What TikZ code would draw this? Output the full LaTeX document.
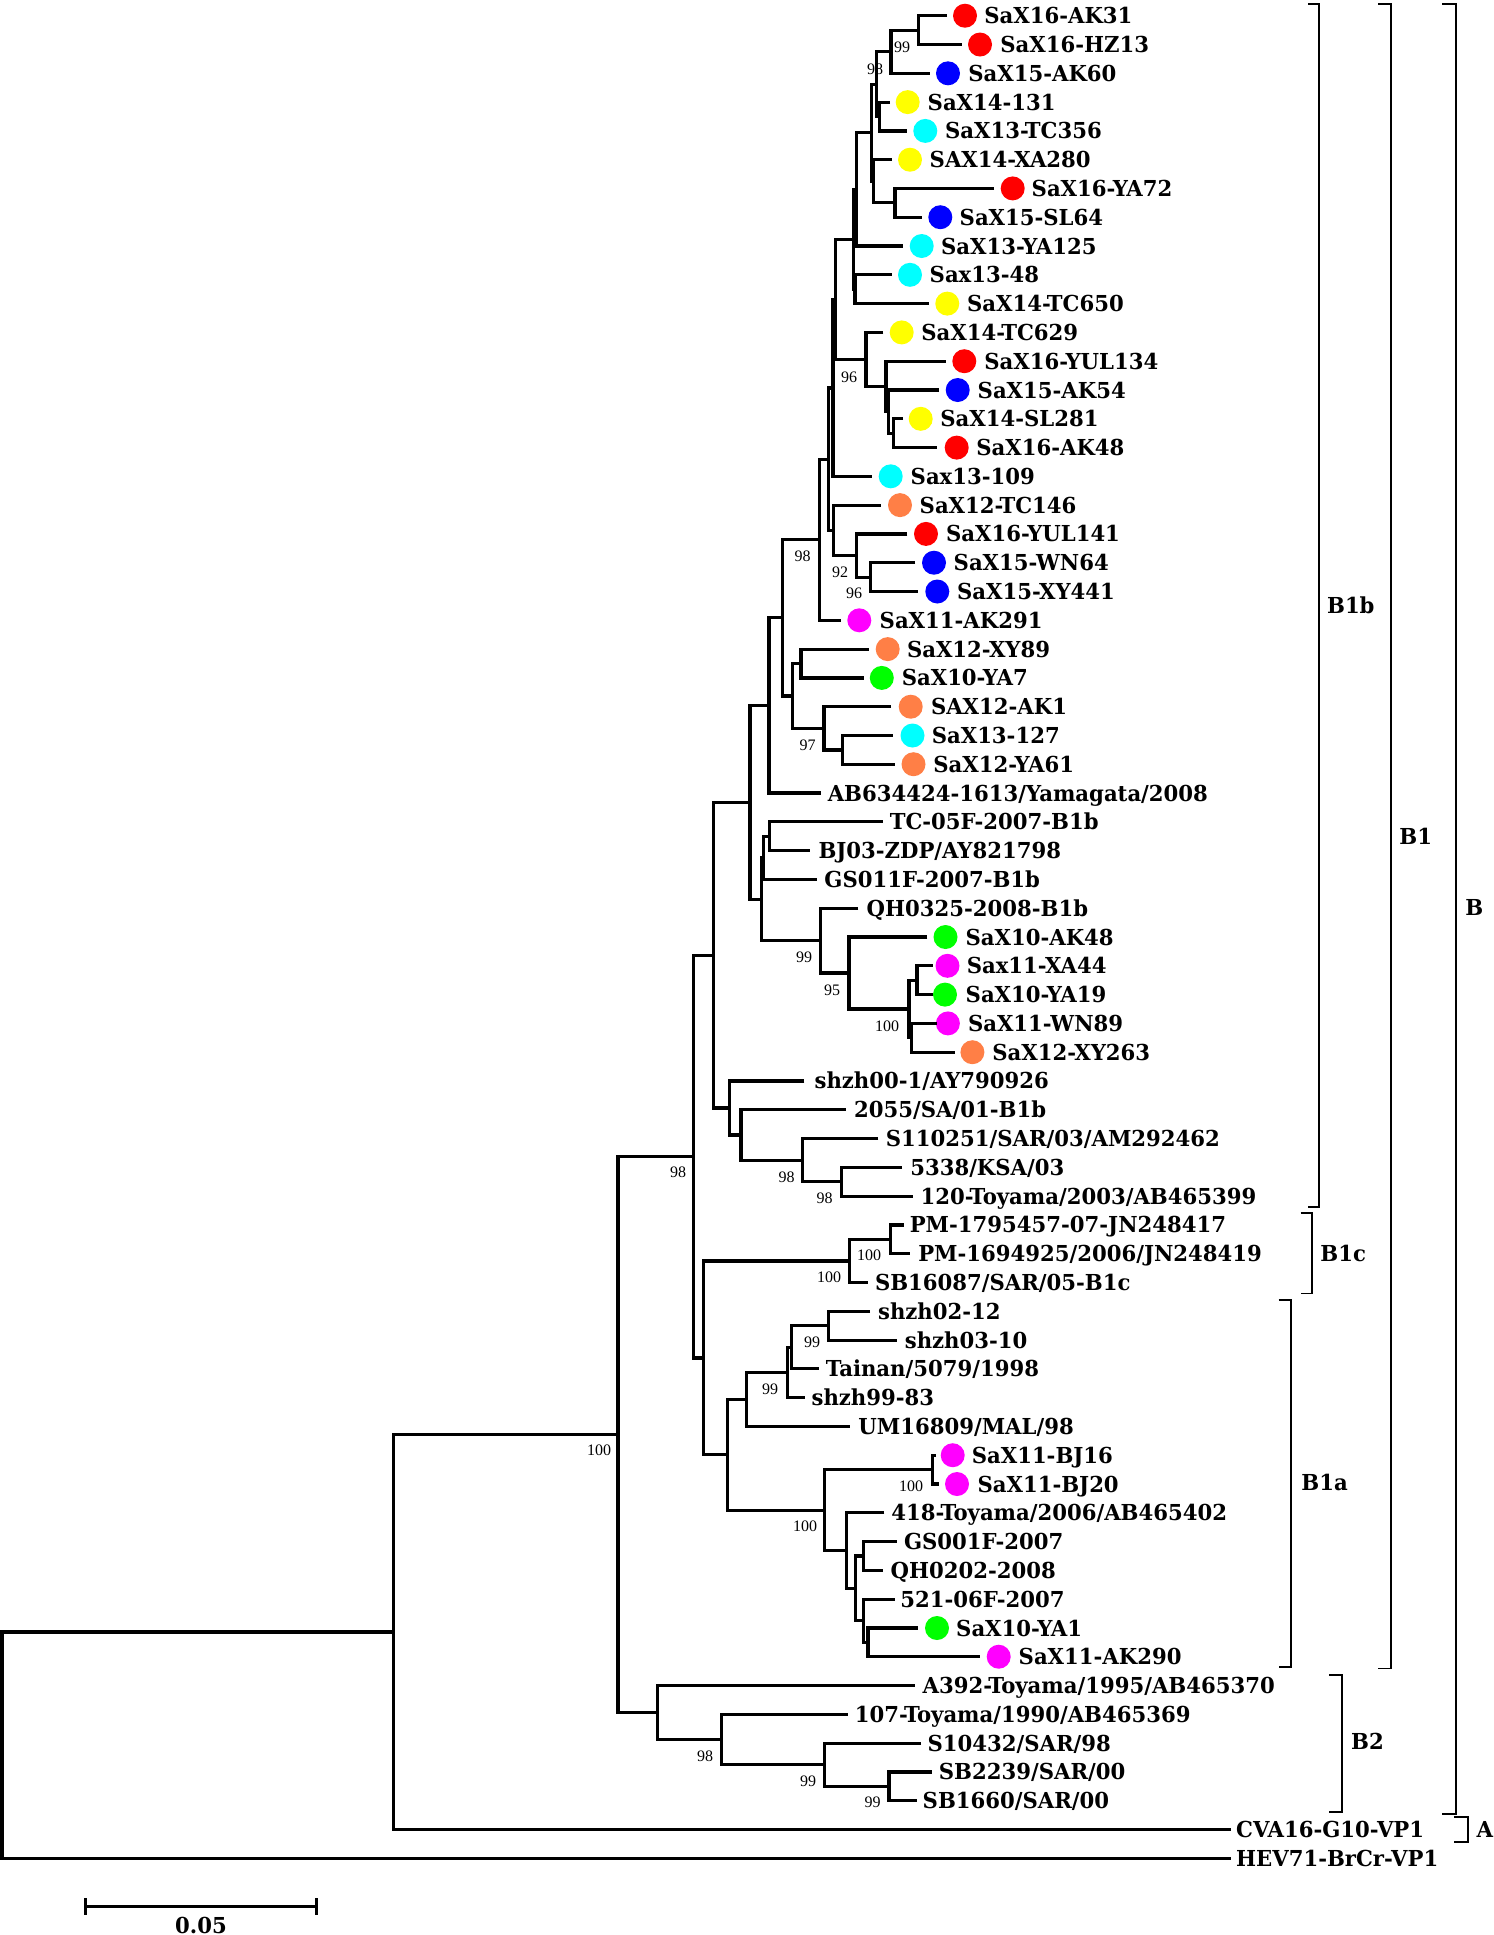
\documentclass[tikz,border=0pt]{standalone}
\usepackage{fontspec}
\newfontfamily\labfont[FakeStretch=1.07]{DejaVu Serif Condensed}
\newfontfamily\numfont{Liberation Serif}
\definecolor{corange}{RGB}{255,127,70}
\definecolor{cred}{RGB}{255,0,0}
\definecolor{cblue}{RGB}{0,0,255}
\definecolor{cyellow}{RGB}{255,255,0}
\definecolor{ccyan}{RGB}{0,255,255}
\definecolor{cmag}{RGB}{255,0,255}
\definecolor{cgreen}{RGB}{0,255,0}
\newcommand\lfplain[5]{%
  \coordinate (#1) at (#2,#3);
  \node[lbl] (#1t) at (#4,#3) {#5};}
\newcommand\lfdot[7]{%
  \coordinate (#1) at (#2,#3);
  \node[dot,fill=#5] (#1d) at (#4,#3) {};
  \node[lbl] (#1t) at (#6,#3) {#7};}
\begin{document}
\begin{tikzpicture}[x=0.5pt,y=-0.5pt,
  br/.style={line width=1.6pt},
  bk/.style={line width=0.9pt},
  lbl/.style={anchor=west,inner sep=0pt,text height=8pt,text depth=0pt,font=\labfont\bfseries\fontsize{11}{13}\selectfont},
  bs/.style={inner sep=0pt,text height=5.3pt,text depth=0pt,font=\numfont\fontsize{8}{9}\selectfont},
  dot/.style={circle,draw=none,minimum size=12pt,inner sep=0pt}]
\useasboundingbox (0,0) rectangle (1494,1935);
% leaves
\lfdot{l1}{947}{15.7}{965}{cred}{984}{SaX16-AK31}
\lfdot{l2}{962}{44.5}{980}{cred}{1000}{SaX16-HZ13}
\lfdot{l3}{930}{73.3}{948}{cblue}{968}{SaX15-AK60}
\lfdot{l4}{890}{102.1}{907.7}{cyellow}{927.3}{SaX14-131}
\lfdot{l5}{907.3}{130.9}{925.3}{ccyan}{944.7}{SaX13-TC356}
\lfdot{l6}{891.7}{159.7}{910}{cyellow}{929.3}{SAX14-XA280}
\lfdot{l7}{994}{188.4}{1012.7}{cred}{1031.3}{SaX16-YA72}
\lfdot{l8}{921.7}{217.2}{940.3}{cblue}{959.3}{SaX15-SL64}
\lfdot{l9}{902.7}{246.0}{921.7}{ccyan}{940.7}{SaX13-YA125}
\lfdot{l10}{891.7}{274.8}{910}{ccyan}{929.3}{Sax13-48}
\lfdot{l11}{929.3}{303.6}{947.3}{cyellow}{966.7}{SaX14-TC650}
\lfdot{l12}{883.3}{332.4}{901.7}{cyellow}{921}{SaX14-TC629}
\lfdot{l13}{945.7}{361.2}{964.3}{cred}{984}{SaX16-YUL134}
\lfdot{l14}{939}{390.0}{957.7}{cblue}{977.3}{SaX15-AK54}
\lfdot{l15}{903}{418.8}{920.7}{cyellow}{940}{SaX14-SL281}
\lfdot{l16}{936.7}{447.6}{956.7}{cred}{976}{SaX16-AK48}
\lfdot{l17}{871.7}{476.3}{890.7}{ccyan}{910.3}{Sax13-109}
\lfdot{l18}{880.7}{505.1}{900}{corange}{919.3}{SaX12-TC146}
\lfdot{l19}{907.3}{533.9}{926}{cred}{945.7}{SaX16-YUL141}
\lfdot{l20}{915}{562.7}{934}{cblue}{953.3}{SaX15-WN64}
\lfdot{l21}{918.3}{591.5}{937.3}{cblue}{956.7}{SaX15-XY441}
\lfdot{l22}{841}{620.3}{859.3}{cmag}{879.3}{SaX11-AK291}
\lfdot{l23}{868.7}{649.1}{887.7}{corange}{906.6}{SaX12-XY89}
\lfdot{l24}{863.6}{677.9}{881.8}{cgreen}{901.4}{SaX10-YA7}
\lfdot{l25}{891.1}{706.7}{910.7}{corange}{930.6}{SAX12-AK1}
\lfdot{l26}{892.8}{735.5}{912.5}{ccyan}{931.4}{SaX13-127}
\lfdot{l27}{894.6}{764.2}{913.5}{corange}{933}{SaX12-YA61}
\lfplain{l28}{820.5}{793.0}{827.4}{AB634424-1613/Yamagata/2008}
\lfplain{l29}{882.5}{821.8}{889.4}{TC-05F-2007-B1b}
\lfplain{l30}{810.2}{850.6}{818.1}{BJ03-ZDP/AY821798}
\lfplain{l31}{817.1}{879.4}{824}{GS011F-2007-B1b}
\lfplain{l32}{858.4}{908.2}{866.3}{QH0325-2008-B1b}
\lfdot{l33}{927.3}{937.0}{945.5}{cgreen}{965.2}{SaX10-AK48}
\lfdot{l34}{932.8}{965.8}{947.5}{cmag}{966.4}{Sax11-XA44}
\lfdot{l35}{932.8}{994.6}{945}{cgreen}{965.3}{SaX10-YA19}
\lfdot{l36}{936.8}{1023.4}{947.9}{cmag}{967.6}{SaX11-WN89}
\lfdot{l37}{954.6}{1052.2}{972.4}{corange}{992}{SaX12-XY263}
\lfplain{l38}{804.3}{1080.9}{814.2}{shzh00-1/AY790926}
\lfplain{l39}{845.8}{1109.7}{853.8}{2055/SA/01-B1b}
\lfplain{l40}{878.3}{1138.5}{885.4}{S110251/SAR/03/AM292462}
\lfplain{l41}{902}{1167.3}{909.9}{5338/KSA/03}
\lfplain{l42}{913}{1196.1}{920.2}{120-Toyama/2003/AB465399}
\lfplain{l43}{903.6}{1224.9}{909.4}{PM-1795457-07-JN248417}
\lfplain{l44}{910.3}{1253.7}{917.9}{PM-1694925/2006/JN248419}
\lfplain{l45}{867.9}{1282.5}{874.6}{SB16087/SAR/05-B1c}
\lfplain{l46}{870}{1311.3}{877.7}{shzh02-12}
\lfplain{l47}{896.9}{1340.1}{904.5}{shzh03-10}
\lfplain{l48}{818.8}{1368.8}{825.4}{Tainan/5079/1998}
\lfplain{l49}{805.4}{1397.6}{811.2}{shzh99-83}
\lfplain{l50}{850}{1426.4}{858}{UM16809/MAL/98}
\lfdot{l51}{936}{1455.2}{952.7}{cmag}{971.4}{SaX11-BJ16}
\lfdot{l52}{939.3}{1484.0}{957}{cmag}{977.2}{SaX11-BJ20}
\lfplain{l53}{884.4}{1512.8}{891}{418-Toyama/2006/AB465402}
\lfplain{l54}{896.9}{1541.6}{903.6}{GS001F-2007}
\lfplain{l55}{882.6}{1570.4}{890.2}{QH0202-2008}
\lfplain{l56}{894.6}{1599.2}{900}{521-06F-2007}
\lfdot{l57}{917.9}{1628.0}{937}{cgreen}{955.8}{SaX10-YA1}
\lfdot{l58}{979.5}{1656.7}{998.7}{cmag}{1018.3}{SaX11-AK290}
\lfplain{l59}{914.7}{1685.5}{922.3}{A392-Toyama/1995/AB465370}
\lfplain{l60}{847.8}{1714.3}{854.5}{107-Toyama/1990/AB465369}
\lfplain{l61}{921}{1743.1}{927.2}{S10432/SAR/98}
\lfplain{l62}{931.9}{1771.9}{938.5}{SB2239/SAR/00}
\lfplain{l63}{916.6}{1800.7}{922.3}{SB1660/SAR/00}
\lfplain{l64}{1231}{1829.5}{1235.8}{CVA16-G10-VP1}
\lfplain{l65}{1231}{1858.3}{1235.8}{HEV71-BrCr-VP1}
% internal nodes and branches
\coordinate (Na) at (918.3,30.1); \draw[br] (l1) -| (Na) |- (l2);
\coordinate (Nb) at (891,51.7); \draw[br] (Na) -| (Nb) |- (l3);
\coordinate (Nc) at (879.3,116.5); \draw[br] (l4) -| (Nc) |- (l5);
\coordinate (Nd) at (876.7,84.1); \draw[br] (Nb) -| (Nd) |- (Nc);
\coordinate (Nf) at (895,202.8); \draw[br] (l7) -| (Nf) |- (l8);
\coordinate (Ne) at (873.3,181.3); \draw[br] (l6) -| (Ne) |- (Nf);
\coordinate (Ng) at (871.7,132.7); \draw[br] (Nd) -| (Ng) |- (Ne);
\coordinate (Nh) at (856.7,189.4); \draw[br] (Ng) -| (Nh) |- (l9);
\coordinate (Ni1) at (855,289.2); \draw[br] (l10) -| (Ni1) |- (l11);
\coordinate (Ni) at (853.3,239.3); \draw[br] (Nh) -| (Ni) |- (Ni1);
\coordinate (Nm) at (893.3,433.2); \draw[br] (l15) -| (Nm) |- (l16);
\coordinate (Nl2) at (888.3,411.6); \draw[br] (l14) -| (Nl2) |- (Nm);
\coordinate (Nl) at (886,386.4); \draw[br] (l13) -| (Nl) |- (Nl2);
\coordinate (Nk) at (866,359.4); \draw[br] (l12) -| (Nk) |- (Nl);
\coordinate (Nn) at (835.5,299.4); \draw[br] (Ni) -| (Nn) |- (Nk);
\coordinate (No) at (833,387.9); \draw[br] (Nn) -| (No) |- (l17);
\coordinate (Nr) at (870.7,577.1); \draw[br] (l20) -| (Nr) |- (l21);
\coordinate (Ns) at (856.7,555.5); \draw[br] (l19) -| (Ns) |- (Nr);
\coordinate (Nq) at (833.3,530.3); \draw[br] (l18) -| (Nq) |- (Ns);
\coordinate (Np) at (828.3,459.1); \draw[br] (No) -| (Np) |- (Nq);
\coordinate (Nt) at (819.3,539.7); \draw[br] (Np) -| (Nt) |- (l22);
\coordinate (Nu) at (801,663.5); \draw[br] (l23) -| (Nu) |- (l24);
\coordinate (Nx) at (842.2,749.9); \draw[br] (l26) -| (Nx) |- (l27);
\coordinate (Nw) at (824,728.3); \draw[br] (l25) -| (Nw) |- (Nx);
\coordinate (Nv) at (792.3,695.9); \draw[br] (Nu) -| (Nv) |- (Nw);
\coordinate (Ny) at (782.6,617.8); \draw[br] (Nt) -| (Ny) |- (Nv);
\coordinate (Nz) at (768.9,705.4); \draw[br] (Ny) -| (Nz) |- (l28);
\coordinate (Naa) at (769.5,836.2); \draw[br] (l29) -| (Naa) |- (l30);
\coordinate (Nab) at (763.7,857.8); \draw[br] (Naa) -| (Nab) |- (l31);
\coordinate (Naf) at (917,980.2); \draw[br] (l34) -| (Naf) |- (l35);
\coordinate (Nag) at (911.5,1037.8); \draw[br] (l36) -| (Nag) |- (l37);
\coordinate (Nah) at (909,1009); \draw[br] (Naf) -| (Nah) |- (Nag);
\coordinate (Nae) at (849,973); \draw[br] (l33) -| (Nae) |- (Nah);
\coordinate (Nad) at (820.5,940.6); \draw[br] (l32) -| (Nad) |- (Nae);
\coordinate (Nac) at (761.3,899.2); \draw[br] (Nab) -| (Nac) |- (Nad);
\coordinate (Nan) at (749.9,802.3); \draw[br] (Nz) -| (Nan) |- (Nac);
\coordinate (Nai) at (841.1,1181.7); \draw[br] (l41) -| (Nai) |- (l42);
\coordinate (Naj) at (802.3,1160.1); \draw[br] (l40) -| (Naj) |- (Nai);
\coordinate (Nak) at (741,1134.9); \draw[br] (l39) -| (Nak) |- (Naj);
\coordinate (Nal) at (729.2,1107.9); \draw[br] (l38) -| (Nal) |- (Nak);
\coordinate (Nam) at (713.6,955.1); \draw[br] (Nan) -| (Nam) |- (Nal);
\coordinate (Npm) at (890.2,1239.3); \draw[br] (l43) -| (Npm) |- (l44);
\coordinate (NBonec) at (849.1,1260.9); \draw[br] (Npm) -| (NBonec) |- (l45);
\coordinate (Naq) at (828.6,1325.7); \draw[br] (l46) -| (Naq) |- (l47);
\coordinate (Nar) at (791.1,1347.3); \draw[br] (Naq) -| (Nar) |- (l48);
\coordinate (Nas) at (787.5,1372.5); \draw[br] (Nar) -| (Nas) |- (l49);
\coordinate (Nav) at (746.4,1399.5); \draw[br] (Nas) -| (Nav) |- (l50);
\coordinate (NBJ) at (932.6,1469.6); \draw[br] (l51) -| (NBJ) |- (l52);
\coordinate (Nax) at (863.4,1556); \draw[br] (l54) -| (Nax) |- (l55);
\coordinate (Nay) at (867.9,1642.4); \draw[br] (l57) -| (Nay) |- (l58);
\coordinate (Naz) at (863.4,1620.8); \draw[br] (l56) -| (Naz) |- (Nay);
\coordinate (Nba) at (855.4,1588.4); \draw[br] (Nax) -| (Nba) |- (Naz);
\coordinate (Nbb) at (846.4,1550.6); \draw[br] (l53) -| (Nbb) |- (Nba);
\coordinate (Nat) at (824.6,1510.1); \draw[br] (NBJ) -| (Nat) |- (Nbb);
\coordinate (NBonea) at (727.2,1454.8); \draw[br] (Nav) -| (NBonea) |- (Nat);
\coordinate (Nap) at (703.6,1357.9); \draw[br] (NBonec) -| (Nap) |- (NBonea);
\coordinate (NBone) at (693.7,1156.5); \draw[br] (Nam) -| (NBone) |- (Nap);
\coordinate (Nbe) at (889,1786.3); \draw[br] (l62) -| (Nbe) |- (l63);
\coordinate (Nbd) at (824.2,1764.7); \draw[br] (l61) -| (Nbd) |- (Nbe);
\coordinate (Nbc) at (721.4,1739.5); \draw[br] (l60) -| (Nbc) |- (Nbd);
\coordinate (NBtwo) at (657.3,1712.5); \draw[br] (l59) -| (NBtwo) |- (Nbc);
\coordinate (NB) at (617.9,1434.5); \draw[br] (NBone) -| (NB) |- (NBtwo);
\coordinate (NA) at (393.5,1632); \draw[br] (NB) -| (NA) |- (l64);
\coordinate (Nroot) at (1.9,1745.2); \draw[br] (NA) -| (Nroot) |- (l65);
% bootstrap values
\node[bs] (b1) at (902,47) {99};
\node[bs] (b2) at (875,69) {98};
\node[bs] (b3) at (849,376.7) {96};
\node[bs] (b4) at (802.5,556) {98};
\node[bs] (b5) at (840,572.3) {92};
\node[bs] (b6) at (854,593) {96};
\node[bs] (b7) at (807.6,745) {97};
\node[bs] (b8) at (804,956.7) {99};
\node[bs] (b9) at (832,990) {95};
\node[bs] (b10) at (887,1025.7) {100};
\node[bs] (b11) at (786.5,1177) {98};
\node[bs] (b12) at (824.5,1198) {98};
\node[bs] (b13) at (678,1172) {98};
\node[bs] (b14) at (869,1255) {100};
\node[bs] (b15) at (829,1276.7) {100};
\node[bs] (b16) at (812,1341.7) {99};
\node[bs] (b17) at (770,1389) {99};
\node[bs] (b18) at (911,1486) {100};
\node[bs] (b19) at (805,1526) {100};
\node[bs] (b20) at (705,1755.7) {98};
\node[bs] (b21) at (808,1780.7) {99};
\node[bs] (b22) at (872.5,1802.3) {99};
\node[bs] (b23) at (599,1450) {100};
% clade brackets
\draw[bk] (1308.3,3.7) -- (1319.3,3.7) -- (1319.3,1207) -- (1308.3,1207);
\node[lbl] (cB1b) at (1326.7,605) {B1b};
\draw[bk] (1378.3,3.7) -- (1390.7,3.7) -- (1390.7,1668.5) -- (1378.3,1668.5);
\node[lbl] (cB1) at (1399,836) {B1};
\draw[bk] (1442.3,3.7) -- (1456,3.7) -- (1456,1814) -- (1442.3,1814);
\node[lbl] (cB) at (1465,907) {B};
\draw[bk] (1300.7,1213.3) -- (1312.3,1213.3) -- (1312.3,1293.5) -- (1300.7,1293.5);
\node[lbl] (cB1c) at (1320,1253) {B1c};
\draw[bk] (1278.6,1300) -- (1290.7,1300) -- (1290.7,1666.7) -- (1278.6,1666.7);
\node[lbl] (cB1a) at (1301,1482) {B1a};
\draw[bk] (1329.3,1675) -- (1342.3,1675) -- (1342.3,1812) -- (1329.3,1812);
\node[lbl] (cB2) at (1350.7,1741) {B2};
\draw[bk] (1454,1817) -- (1468.3,1817) -- (1468.3,1842) -- (1454,1842);
\node[lbl] (cA) at (1476.2,1829) {A};
% scale bar
\coordinate (s1) at (85.8,1906.5);
\coordinate (s2) at (316.3,1906.5);
\draw[br] (s1) -- (s2);
\draw[br] (85.8,1898) -- (85.8,1915);
\draw[br] (316.3,1898) -- (316.3,1915);
\node[lbl,anchor=center] (sbl) at (201,1925) {0.05};
\end{tikzpicture}
\end{document}
